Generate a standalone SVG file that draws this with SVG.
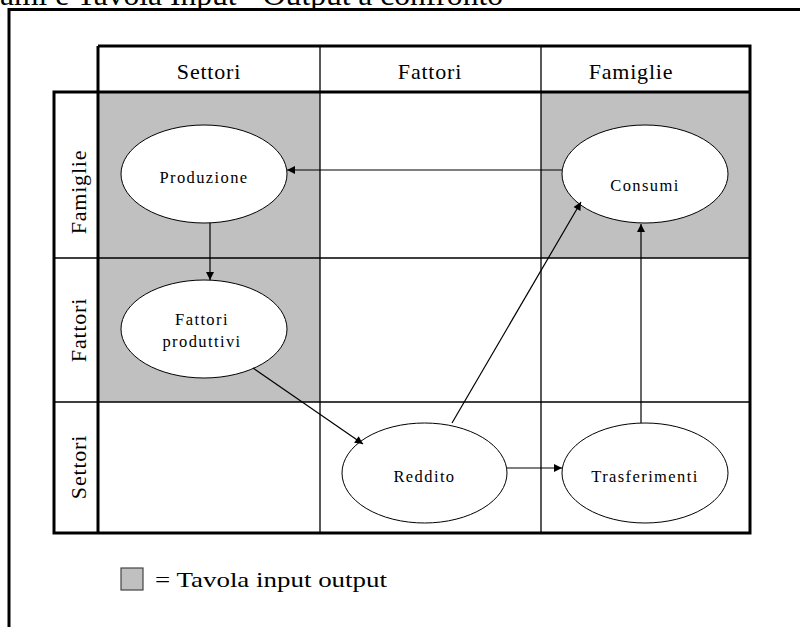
<svg xmlns="http://www.w3.org/2000/svg" width="800" height="627" viewBox="0 0 800 627">
<defs>
<marker id="ah" viewBox="0 0 10 10" refX="10" refY="5" markerWidth="10" markerHeight="8" markerUnits="userSpaceOnUse" orient="auto">
<path d="M0,0 L10,5 L0,10 z" fill="#000"/>
</marker>
</defs>
<style>
.t{font-family:"Liberation Serif","Times New Roman",serif;fill:#000}
.hd{font-size:22px;text-anchor:middle;letter-spacing:0.8px}
.nd{font-size:16.5px;text-anchor:middle;letter-spacing:1.4px}
.thin{stroke:#000;stroke-width:1.3;fill:none}
.thick{stroke:#000;stroke-width:3;fill:none}
.sh{fill:#c0c0c0}
.el{fill:#fff;stroke:#000;stroke-width:1}
.cn{stroke:#000;stroke-width:1.2;fill:none;marker-end:url(#ah)}
</style>
<rect width="800" height="627" fill="#fff"/>
<text class="t" x="0" y="5" font-size="30" textLength="503" lengthAdjust="spacingAndGlyphs">ami e Tavola Input - Output a confronto</text>
<path d="M9,627 V9.5 H800" stroke="#000" stroke-width="3" fill="none"/>
<g id="table">
<rect class="sh" x="98" y="92" width="222" height="310"/>
<rect class="sh" x="541" y="92" width="209" height="166"/>
<path class="thin" d="M320,46 V533 M541,46 V533 M54,258 H750 M54,402 H750"/>
<path class="thick" d="M98,46 H750 V533 H54 V92 H750 M98,46 V533"/>
<text class="t hd" x="209" y="79">Settori</text>
<text class="t hd" x="430" y="79">Fattori</text>
<text class="t hd" x="631" y="79">Famiglie</text>
<text class="t hd" transform="translate(86,192) rotate(-90)">Famiglie</text>
<text class="t hd" transform="translate(86,330) rotate(-90)">Fattori</text>
<text class="t hd" transform="translate(86,467) rotate(-90)">Settori</text>
</g>
<g id="produzione">
<ellipse class="el" cx="204" cy="174" rx="83" ry="49"/>
<text class="t nd" x="204" y="183">Produzione</text>
</g>
<g id="consumi">
<ellipse class="el" cx="645" cy="174" rx="83" ry="49"/>
<text class="t nd" x="645" y="191">Consumi</text>
</g>
<g id="fattori-produttivi">
<ellipse class="el" cx="204" cy="329" rx="83" ry="49"/>
<text class="t nd" x="202" y="325">Fattori</text>
<text class="t nd" x="202" y="347">produttivi</text>
</g>
<g id="reddito">
<ellipse class="el" cx="424.5" cy="473" rx="82.5" ry="50"/>
<text class="t nd" x="424.5" y="482">Reddito</text>
</g>
<g id="trasferimenti">
<ellipse class="el" cx="645" cy="473" rx="83" ry="50"/>
<text class="t nd" x="645" y="482">Trasferimenti</text>
</g>
<g id="connectors">
<path class="cn" d="M562,170 H287"/>
<path class="cn" d="M210,223 V280"/>
<path class="cn" d="M253,368 L363,444"/>
<path class="cn" d="M452,423 L581,202"/>
<path class="cn" d="M507,468 H562"/>
<path class="cn" d="M641,423 V224"/>
</g>
<g id="legend">
<rect x="121" y="568" width="22" height="22" fill="#c0c0c0" stroke="#444" stroke-width="1.2"/>
<text class="t" x="155" y="587" font-size="22" textLength="232" lengthAdjust="spacingAndGlyphs">=  Tavola input output</text>
</g>
</svg>
